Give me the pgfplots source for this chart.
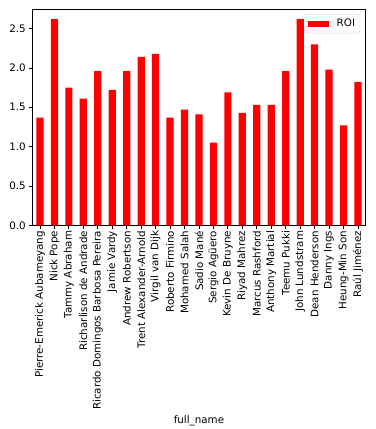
\documentclass[border=0pt]{standalone}
\usepackage{fontspec}
\setmainfont{DejaVu Sans}
\usepackage{pgfplots}
\pgfplotsset{compat=1.18}
\begin{document}
\begin{tikzpicture}
\begin{axis}[
  name=ax,
  scale only axis,
  width=335pt, height=218pt,
  xmin=-0.5, xmax=22.5,
  ymin=0, ymax=2.75,
  ybar, bar width=0.5,
  xtick=data,
  xticklabels={Pierre-Emerick Aubameyang,Nick Pope,Tammy Abraham,Richarlison de Andrade,Ricardo Domingos Barbosa Pereira,Jamie Vardy,Andrew Robertson,Trent Alexander-Arnold,Virgil van Dijk,Roberto Firmino,Mohamed Salah,Sadio Mané,Sergio Agüero,Kevin De Bruyne,Riyad Mahrez,Marcus Rashford,Anthony Martial,Teemu Pukki,John Lundstram,Dean Henderson,Danny Ings,Heung-Min Son,Raúl Jiménez},
  xticklabel style={rotate=90, anchor=east, font=\fontsize{10.4}{12}\selectfont, inner sep=2pt},
  ytick={0,0.5,1,1.5,2,2.5},
  yticklabel style={font=\fontsize{10.4}{12}\selectfont, /pgf/number format/fixed, /pgf/number format/precision=1, /pgf/number format/fixed zerofill},
  /pgf/number format/assume math mode=true,
  tick align=outside, major tick length=3.5pt,
  xtick pos=bottom, ytick pos=left,
  tick style={black, line width=0.8pt},
  axis line style={black, line width=0.8pt},
  xlabel={full\_name},
  xlabel style={font=\fontsize{10.4}{12}\selectfont},
  legend style={at={(0.985,0.977)}, anchor=north east, draw=black!20, rounded corners=2pt, font=\fontsize{10.4}{12}\selectfont, inner xsep=3pt, inner ysep=3pt,
    /tikz/every odd column/.append style={column sep=6pt}},
  legend image code/.code={\fill[red, sharp corners] (0pt,-3pt) rectangle (21pt,3pt);},
]
\addplot[fill=red, draw=none] coordinates {
(0,1.37) (1,2.62) (2,1.75) (3,1.61) (4,1.96) (5,1.72) (6,1.96) (7,2.14) (8,2.18) (9,1.37) (10,1.47) (11,1.41) (12,1.05) (13,1.69) (14,1.43) (15,1.53) (16,1.53) (17,1.96) (18,2.62) (19,2.30) (20,1.98) (21,1.27) (22,1.82)
};
\addlegendentry{ROI}
\end{axis}
\path ([shift={(-33pt,-202pt)}]ax.south west) rectangle ([shift={(345pt,227pt)}]ax.south west);
\end{tikzpicture}
\end{document}
